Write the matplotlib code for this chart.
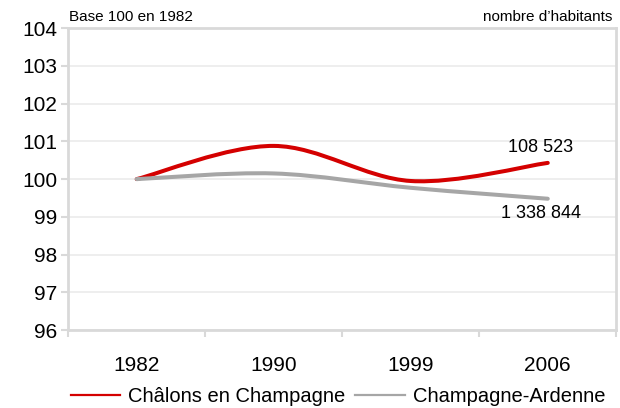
import numpy as np
import matplotlib.pyplot as plt
from matplotlib.path import Path
from matplotlib.patches import PathPatch
from matplotlib.lines import Line2D

plt.rcParams['font.family'] = ['Liberation Sans', 'DejaVu Sans']

years = ['1982', '1990', '1999', '2006']
chalons = [100.0, 100.88, 99.95, 100.43]
region = [100.0, 100.15, 99.77, 99.48]
names = ['Châlons en Champagne', 'Champagne-Ardenne']
colors = ['#d40000', '#a6a6a6']
end_labels = ['108 523', '1 338 844']


def smooth_path(x, y):
    # Excel-like smoothed line: Bezier segments with Catmull-Rom control points
    pts = np.column_stack([x, y])
    verts = [pts[0]]
    codes = [Path.MOVETO]
    n = len(pts)
    for i in range(n - 1):
        p0 = pts[i - 1] if i > 0 else pts[i]
        p1 = pts[i]
        p2 = pts[i + 1]
        p3 = pts[i + 2] if i + 2 < n else pts[i + 1]
        c1 = p1 + (p2 - p0) / 6
        c2 = p2 - (p3 - p1) / 6
        verts += [c1, c2, p2]
        codes += [Path.CURVE4] * 3
    return Path(verts, codes)


fig = plt.figure(figsize=(6.2, 4.08), dpi=100)
ax = fig.add_axes([0.11, 0.191, 0.884, 0.74])

x = np.arange(len(years))
for vals, c in zip([chalons, region], colors):
    ax.add_patch(PathPatch(smooth_path(x, vals), facecolor='none', edgecolor=c,
                           lw=2.9, capstyle='round', zorder=3))

ax.set_xlim(-0.5, 3.5)
ax.set_ylim(96, 104)
ax.set_yticks(np.arange(96, 105, 1))
ax.tick_params(axis='y', labelsize=15, length=5, color='#d9d9d9', width=1.5, pad=3)
ax.set_xticks(x)
ax.set_xticklabels(years)
ax.set_xticks(np.arange(-0.5, 3.6, 1), minor=True)
ax.tick_params(axis='x', which='major', length=0, labelsize=15, pad=19)
ax.tick_params(axis='x', which='minor', length=5, color='#d9d9d9', width=1.5)
ax.grid(axis='y', color='#ebebeb', lw=1.2)
ax.set_axisbelow(True)
for s in ax.spines.values():
    s.set_color('#d9d9d9')
    s.set_linewidth(2)

ax.annotate(end_labels[0], (3, chalons[-1]), xytext=(-5, 11), textcoords='offset points',
            ha='center', va='center', fontsize=13)
ax.annotate(end_labels[1], (3, region[-1]), xytext=(-5, -10.5), textcoords='offset points',
            ha='center', va='center', fontsize=13)

fig.text(0.112, 0.958, 'Base 100 en 1982', ha='left', va='center', fontsize=11)
fig.text(0.988, 0.958, 'nombre d\u2019habitants', ha='right', va='center', fontsize=11)

handles = [Line2D([], [], color=c, lw=1.6) for c in colors]
fig.legend(handles, names, loc='center', bbox_to_anchor=(0.545, 0.027), ncol=2,
           frameon=False, fontsize=14.5, handlelength=2.45, handletextpad=0.4,
           columnspacing=0.5, borderpad=0, borderaxespad=0)

fig.savefig('out.png', dpi=100)
